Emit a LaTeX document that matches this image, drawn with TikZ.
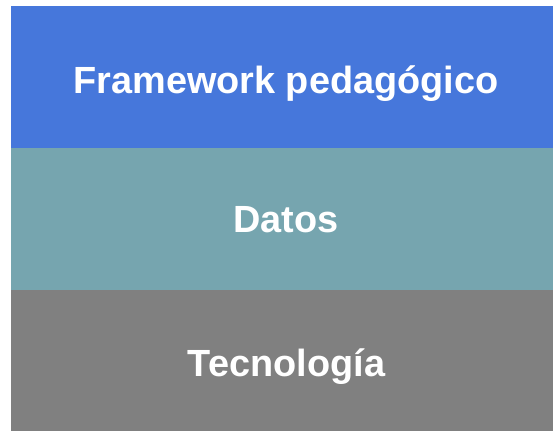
\documentclass[tikz,border=0pt]{standalone}
\usepackage{fontspec}
\setmainfont{Liberation Sans}
\definecolor{bandblue}{HTML}{4677DB}
\definecolor{bandteal}{HTML}{76A5AF}
\definecolor{bandgray}{HTML}{808080}
\begin{document}
\begin{tikzpicture}[x=0.75pt,y=-0.75pt,
  band/.style={draw=none,minimum width=542*0.75pt,inner sep=0pt,anchor=north west},
  label/.style={anchor=base,inner sep=0pt,text=white,font=\bfseries\fontsize{28.4}{34}\selectfont}]
\useasboundingbox (0,0) rectangle (553,431);
\node[band,fill=bandblue,minimum height=142.5*0.75pt] (fw) at (11,6) {};
\node[band,fill=bandteal,minimum height=142*0.75pt] (da) at (11,148) {};
\node[band,fill=bandgray,minimum height=142*0.75pt] (te) at (11,290) {};
\node[label] (fwt) at (286,94) {Framework pedagógico};
\node[label] (dat) at (286,232.5) {Datos};
\node[label] (tet) at (286.5,376) {Tecnología};
\end{tikzpicture}
\end{document}
